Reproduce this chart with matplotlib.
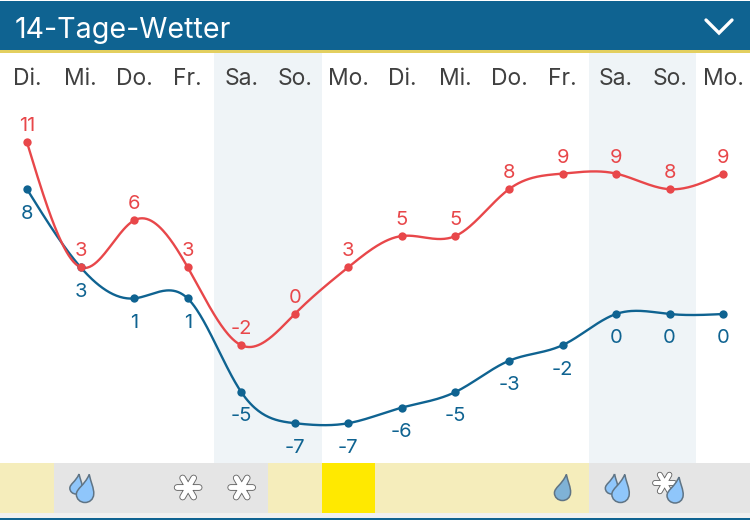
import numpy as np
import matplotlib
matplotlib.use('Agg')
import matplotlib.pyplot as plt
import matplotlib.patheffects as pe
from matplotlib.patches import PathPatch, Rectangle
from matplotlib.path import Path

plt.rcParams['font.family'] = ['Inter', 'DejaVu Sans']

days = ['Di.', 'Mi.', 'Do.', 'Fr.', 'Sa.', 'So.', 'Mo.', 'Di.', 'Mi.', 'Do.', 'Fr.', 'Sa.', 'So.', 'Mo.']
tmax = [11, 3, 6, 3, -2, 0, 3, 5, 5, 8, 9, 9, 8, 9]
tmin = [8, 3, 1, 1, -5, -7, -7, -6, -5, -3, -2, 0, 0, 0]
weekend = [4, 5, 11, 12]
sky = ['pale', 'grey', 'grey', 'grey', 'grey', 'pale', 'sun', 'pale', 'pale', 'pale', 'pale', 'grey', 'grey', 'grey']
icons = [None, 'rain', None, 'snow', 'snow', None, None, None, None, None, 'drop', 'rain', 'sleet', None]

BLUE = '#0f6391'
RED = '#e8474a'
sky_colors = {'pale': '#f5edbb', 'grey': '#e5e5e5', 'sun': '#ffe900'}
X0, DX = 27, 53.55
Y0, DY = 314, 15.6

fig = plt.figure(figsize=(7.5, 5.2), dpi=100)

# frame of the widget, in pixels
bg = fig.add_axes([0, 0, 1, 1])
bg.set_xlim(0, 750)
bg.set_ylim(520, 0)
bg.axis('off')
bg.add_patch(Rectangle((0, 1), 750, 49, color=BLUE, lw=0))
bg.add_patch(Rectangle((0, 50), 750, 3, color='#e3cf5f', lw=0))
bg.add_patch(Rectangle((0, 513), 750, 5, color='#f0f0f0', lw=0))
bg.add_patch(Rectangle((0, 518), 750, 2, color=BLUE, lw=0))
bg.text(15, 38, '14-Tage-Wetter', color='white', fontsize=20.6, va='baseline', ha='left')
bg.plot([706, 719, 732], [20, 33, 20], color='white', lw=2.4, solid_capstyle='round', solid_joinstyle='miter')

# chart axes: day index against temperature
ax = fig.add_axes([0, 0, 1, 1])
ax.patch.set_alpha(0)
ax.set_xlim(-X0 / DX, (750 - X0) / DX)
ax.set_ylim((Y0 - 520) / DY, Y0 / DY)
ax.axis('off')

# icons sit above the sky cells
top = fig.add_axes([0, 0, 1, 1], sharex=bg, sharey=bg)
top.axis('off')
top.patch.set_alpha(0)

x = np.arange(len(days))


def spline(xs, ys):
    # natural cubic spline through the points
    n = len(xs)
    A = np.zeros((n, n))
    b = np.zeros(n)
    A[0, 0] = A[n - 1, n - 1] = 1
    for i in range(1, n - 1):
        A[i, i - 1], A[i, i], A[i, i + 1] = 1, 4, 1
        b[i] = 6 * (ys[i - 1] - 2 * ys[i] + ys[i + 1])
    m = np.linalg.solve(A, b)
    t = np.linspace(0, n - 1, 600)
    i = np.minimum(t.astype(int), n - 2)
    u = t - i
    ys = np.array(ys, dtype=float)
    y = (1 - u) * ys[i] + u * ys[i + 1] + ((1 - u) ** 3 - (1 - u)) * m[i] / 6 + (u ** 3 - u) * m[i + 1] / 6
    return t, y


base = (Y0 - 463) / DY
for d in weekend:
    ax.bar(d, (463 - 53) / DY, bottom=base, width=1, color='#eff4f7', lw=0, zorder=1)

for i, s in enumerate(sky):
    ax.bar(i, -50 / DY, bottom=base, width=1, color=sky_colors[s], lw=0, zorder=2)

for i, d in enumerate(days):
    ax.annotate(d, (i, 0), xycoords=('data', 'figure pixels'), xytext=(i, 520 - 79), textcoords=('data', 'figure pixels'),
                color='#404040', fontsize=16.5, ha='center', va='center', zorder=6)

for vals, col, off in [(tmin, BLUE, -17.5), (tmax, RED, 11.5)]:
    t, y = spline(x, vals)
    ax.plot(t, y, color=col, lw=1.7, zorder=4)
    ax.plot(x, vals, 'o', color=col, ms=6, mew=0, zorder=5)
    for i, v in enumerate(vals):
        ax.annotate(str(v), (i, v), xytext=(0, off), textcoords='offset points', color=col,
                    fontsize=14.5, ha='center', va='center', zorder=6)


def drop(cx, cy, s, face):
    # tip at top right, round belly below
    verts = [(0.3, -1), (0.4, -0.5), (0.65, 0), (0.62, 0.4), (0.6, 0.8), (0.3, 1), (0, 1),
             (-0.35, 1), (-0.62, 0.75), (-0.62, 0.42), (-0.62, 0), (-0.05, -0.2), (0.3, -1)]
    codes = [Path.MOVETO] + [Path.CURVE4] * 12
    verts = [(cx + a * s, cy + b * s) for a, b in verts]
    top.add_patch(PathPatch(Path(verts, codes), fc=face, ec='#5f7485', lw=1.1, zorder=3))


def star(cx, cy, r):
    verts, codes = [], []
    for a in np.deg2rad([0, 60, 120]):
        verts += [(cx - r * np.cos(a), cy - r * np.sin(a)), (cx + r * np.cos(a), cy + r * np.sin(a))]
        codes += [Path.MOVETO, Path.LINETO]
    w = r * 0.32
    p = PathPatch(Path(verts, codes), fc='none', ec='white', lw=w, capstyle='round', zorder=3)
    p.set_path_effects([pe.Stroke(linewidth=w + 1.3, foreground='#666666'), pe.Normal()])
    top.add_patch(p)


for i, kind in enumerate(icons):
    cx = X0 + DX * i
    if kind == 'rain':
        drop(cx - 4.5, 484, 10, '#8fc6fb')
        drop(cx + 4.5, 488.5, 14, '#8fc6fb')
    elif kind == 'drop':
        drop(cx, 487.5, 13, '#7fb2d6')
    elif kind == 'snow':
        star(cx + 0.5, 487.5, 11)
    elif kind == 'sleet':
        star(cx - 5, 483, 9.5)
        drop(cx + 5.5, 490, 13, '#8fc6fb')

fig.savefig('out.png', dpi=100)
